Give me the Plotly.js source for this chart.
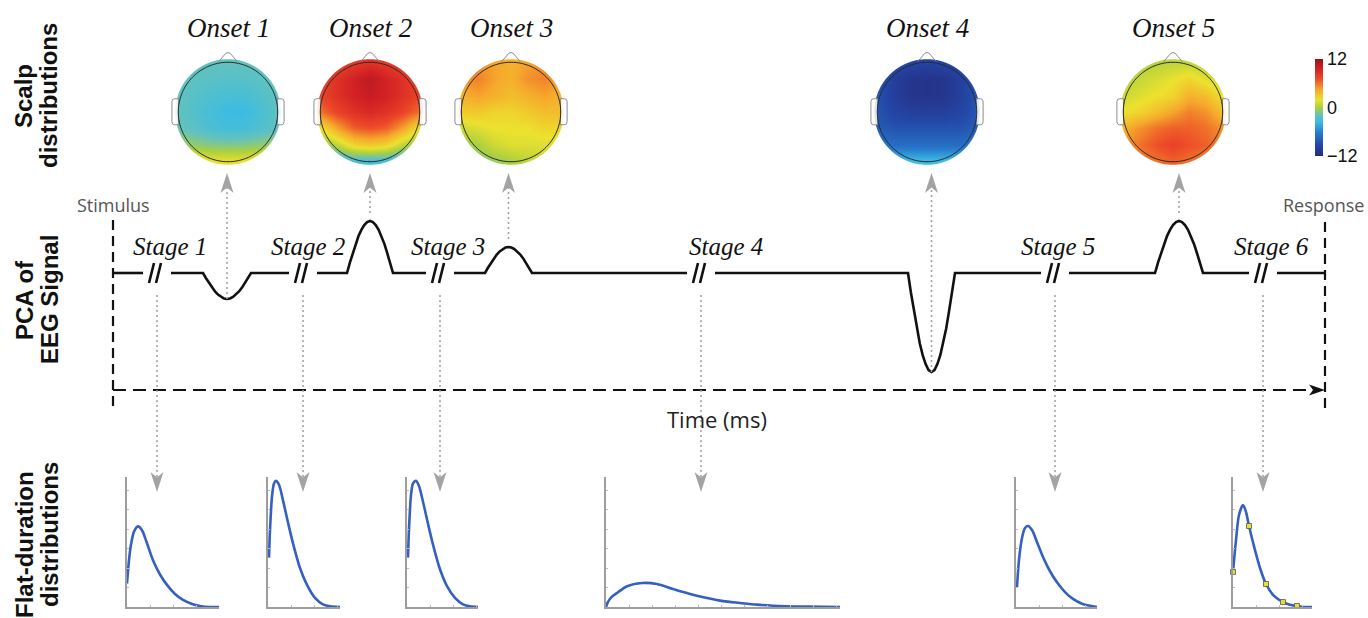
<!DOCTYPE html>
<html><head><meta charset="utf-8">
<script src="https://cdn.plot.ly/plotly-3.0.1.min.js"></script>
<style>html,body{margin:0;padding:0;background:#fff}#chart{width:1368px;height:618px}</style>
</head><body><div id="chart"></div>
<script>
// ================= DATA =================
// PCA signal (schematic time units, stimulus = 0)
const stimulusT = 0;
const responseT = 1212;
const stageNames = ['Stage 1','Stage 2','Stage 3','Stage 4','Stage 5','Stage 6'];
const stageBreakT = [44, 190, 327, 588, 942, 1150];
const onsetNames = ['Onset 1','Onset 2','Onset 3','Onset 4','Onset 5'];
const onsetStartT = [90, 234, 372, 795, 1042];
const onsetEndT   = [138, 280, 419, 842, 1090];
const onsetAmp    = [-26, 52, 26, -99, 52];
const bumpProfile = [0,0.2,0.38,0.56,0.71,0.83,0.92,0.98,1,0.98,0.92,0.83,0.71,0.56,0.38,0.2,0];

// Scalp distributions (µV, grid rows from front/top to back/bottom)
const scalpGridX = [-0.96,-0.64,-0.32,0,0.32,0.64,0.96];
const scalpGridY = [0.96,0.64,0.32,0,-0.32,-0.64,-0.96];
const scalpOnset1 = [
 [-1.6,-1.8,-1.9,-1.9,-1.9,-1.8,-1.6],
 [-1.9,-2.1,-2.3,-2.4,-2.4,-2.2,-1.9],
 [-2.0,-2.4,-2.8,-3.0,-3.0,-2.6,-2.1],
 [-2.0,-2.6,-3.2,-3.6,-3.7,-3.0,-2.2],
 [-1.8,-2.3,-2.9,-3.3,-3.2,-2.7,-2.0],
 [-0.4,-0.7,-1.0,-1.1,-1.0,-0.7,-0.4],
 [2.2,2.0,1.8,1.8,1.8,2.0,2.2]];
const scalpOnset2 = [
 [7,7.5,8,8.5,8,7.5,7],
 [7.5,8.5,9.5,10.5,9.5,8.5,7.5],
 [7.5,8.5,9.5,10,9.5,8.5,7.5],
 [6,7.5,8.5,9,8.5,7.5,6],
 [2,4.5,6.5,7,6.5,4.5,2],
 [-1,0.5,2.5,3,2.5,0.5,-1],
 [-3.5,-3.5,-3,-3,-3,-3.5,-3.5]];
const scalpOnset3 = [
 [4,5,4.5,4,4.5,5,4],
 [5,5.5,4.5,4,5,5.5,4.5],
 [4,4.5,4,3.5,4,4.5,4],
 [3,3,2.5,2.5,3,3.5,3.5],
 [1,1.5,2,2,2,2.5,2.5],
 [-0.5,0,1,1.5,1.5,1.5,1.5],
 [-1.5,-1,-0.5,0,0.5,1,1]];
const scalpOnset4 = [
 [-8,-9,-9.5,-9.5,-9.5,-9,-8],
 [-8.5,-10,-11,-11.2,-11,-10,-8.5],
 [-8.5,-10,-11,-11.2,-11,-10,-8.5],
 [-8.5,-9.5,-10,-10,-10,-9.5,-8.5],
 [-8,-8.5,-8.5,-8.5,-8.5,-8.5,-8],
 [-6.5,-7,-7,-7,-7,-7,-6.5],
 [-3.5,-3.5,-3.5,-3.5,-3.5,-3.5,-3.5]];
const scalpOnset5 = [
 [-0.3,0,0.3,0.6,0.6,0.3,0],
 [0.2,0.8,1.3,1.8,2.5,1.5,0.8],
 [1,1.5,2,2.5,4,3.5,2],
 [2,2.5,3.5,4.5,5.5,5,3.5],
 [4,5,6,6.5,6.5,6,5],
 [5,6,7,7.5,7,6.5,5.5],
 [5,5.5,6,6.5,6,5.5,5]];
const colorTickVals = [12, 0, -12];
const colorTickText = ['12', '0', '\u221212'];

// Flat-duration distributions
const durX1 = [0,2,4,7,11,15,20,26,33,40,48,56,65,73,83,92];
const durY1 = [0.18,0.36,0.48,0.58,0.62,0.59,0.49,0.36,0.25,0.17,0.10,0.054,0.023,0.008,0,0];
const durX2 = [1,2,4,6,8,11,15,20,25,32,39,47,55,62,72];
const durY2 = [0.38,0.59,0.85,0.95,0.97,0.94,0.82,0.65,0.49,0.30,0.17,0.07,0.02,0.005,0];
const durX3 = [1,2,4,6,9,12,16,21,26,33,40,48,56,63,71];
const durY3 = [0.38,0.6,0.86,0.95,0.97,0.93,0.81,0.64,0.48,0.29,0.16,0.07,0.02,0.005,0];
const durX4 = [0,2,6,11,21,36,51,67,84,101,117,134,151,167,201,234];
const durY4 = [0,0.04,0.08,0.108,0.16,0.185,0.177,0.138,0.1,0.069,0.045,0.031,0.018,0.01,0.003,0];
const durX5 = [1,3,6,9,12,16,21,27,34,41,49,57,66,81];
const durY5 = [0.154,0.362,0.531,0.608,0.623,0.592,0.5,0.385,0.275,0.19,0.115,0.062,0.025,0];
const durX6 = [0,3,6,10,13,16,22,27,33,41,50,57,64,72,79];
const durY6 = [0.27,0.515,0.708,0.785,0.731,0.623,0.438,0.3,0.177,0.085,0.038,0.018,0.008,0,0];
const durMarkX6 = [0,16,33,50,64];
const durMarkY6 = [0.27,0.623,0.177,0.038,0.008];

// ================= LAYOUT HELPERS =================
const W = 1368, H = 618;
const P = x => x / W, Q = y => 1 - y / H;
const T0PX = 113, BASEPX = 273;           // main axis: t = px - 113, amp = 273 - py
const headCx = [228, 370, 511, 927, 1173], headCy = 112, headR = 51, headHalf = 1.2;
const stageLabelDx = [13, 5, 8, 25, 3, 8];
const durBoxes = [[127,219],[268,340],[407,478],[606,840],[1016,1097],[1233,1312]];
const durTop = 477, durBottom = 607;
const durXs = [durX1,durX2,durX3,durX4,durX5,durX6];
const durYs = [durY1,durY2,durY3,durY4,durY5,durY6];
const scalps = [scalpOnset1,scalpOnset2,scalpOnset3,scalpOnset4,scalpOnset5];

const scalpColors = [
 [0.0,'rgb(38,44,128)'],[0.12,'rgb(36,72,168)'],[0.25,'rgb(40,128,208)'],
 [0.35,'rgb(62,188,226)'],[0.42,'rgb(98,194,190)'],[0.5,'rgb(172,208,64)'],
 [0.58,'rgb(236,226,46)'],[0.68,'rgb(246,170,44)'],[0.8,'rgb(236,72,40)'],
 [0.9,'rgb(210,32,36)'],[1.0,'rgb(150,20,30)']];

const data = [];
const shapes = [];
const annotations = [];
const layout = {
  width: W, height: H, margin: {l:0,r:0,t:0,b:0},
  paper_bgcolor: '#fff', plot_bgcolor: 'rgba(0,0,0,0)',
  showlegend: false, hovermode: false,
  xaxis: {domain:[0,1], range:[-T0PX, W - T0PX], visible:false, fixedrange:true},
  yaxis: {domain:[0,1], range:[BASEPX - H, BASEPX], visible:false, fixedrange:true},
  shapes, annotations
};

// ---- PCA signal ----
const sx = [], sy = [];
const events = [];
stageBreakT.forEach(t => events.push({t, kind:'gap'}));
onsetStartT.forEach((s,i) => events.push({t:s, kind:'bump', i}));
events.sort((a,b) => a.t - b.t);
const GAP = 14;
sx.push(stimulusT); sy.push(0);
events.forEach(e => {
  if (e.kind === 'gap') { sx.push(e.t - GAP, null, e.t + GAP); sy.push(0, null, 0); }
  else {
    const s = onsetStartT[e.i], en = onsetEndT[e.i], a = onsetAmp[e.i], n = bumpProfile.length - 1;
    bumpProfile.forEach((p,k) => { sx.push(s + (en - s) * k / n); sy.push(a * p); });
  }
});
sx.push(responseT); sy.push(0);

// stimulus / response dashed verticals, time arrow
const VTOP = BASEPX - 220, VBOT = BASEPX - 408, TIMEY = BASEPX - 390;
data.push({type:'scatter', mode:'lines', x:[stimulusT,stimulusT,null,responseT,responseT],
  y:[VTOP,VBOT,null,VTOP-2,VBOT], line:{color:'#111', width:2.2, dash:'10px,6px'}, hoverinfo:'skip'});
data.push({type:'scatter', mode:'lines', x:[stimulusT, responseT-10], y:[TIMEY, TIMEY],
  line:{color:'#111', width:2, dash:'13px,7px'}, hoverinfo:'skip'});
data.push({type:'scatter', mode:'lines', x:sx, y:sy, line:{color:'#111', width:2.6}, connectgaps:false, hoverinfo:'skip'});

// dotted connectors
const UPTIP = BASEPX - 173, DOWNTIP = BASEPX - 492;
const ux = [], uy = [];
onsetStartT.forEach((s,i) => {
  const t = (s + onsetEndT[i]) / 2, a = onsetAmp[i];
  ux.push(t, t, null); uy.push(a > 0 ? a + 8 : a, UPTIP - 14, null);
});
const dx = [], dy = [];
stageBreakT.forEach(t => { dx.push(t, t, null); dy.push(-22, DOWNTIP + 14, null); });
data.push({type:'scatter', mode:'lines', x:ux.concat(dx), y:uy.concat(dy),
  line:{color:'#a3a3a3', width:1.6, dash:'2px,3px'}, hoverinfo:'skip'});

// ---- scalp maps ----
function circlePath(r, n, rev) {
  let s = '';
  for (let k = 0; k <= n; k++) {
    const ang = (rev ? -1 : 1) * 2 * Math.PI * k / n;
    s += (k === 0 ? 'M' : 'L') + (r * Math.cos(ang)).toFixed(4) + ',' + (r * Math.sin(ang)).toFixed(4);
  }
  return s + 'Z';
}
scalps.forEach((z, i) => {
  const ax = i + 2, xa = 'x' + ax, ya = 'y' + ax;
  const half = headR * headHalf;
  layout['xaxis' + ax] = {domain:[P(headCx[i]-half), P(headCx[i]+half)], range:[-headHalf, headHalf], visible:false, fixedrange:true, anchor:ya};
  layout['yaxis' + ax] = {domain:[Q(headCy+half), Q(headCy-half)], range:[-headHalf, headHalf], visible:false, fixedrange:true, anchor:xa};
  const tr = {type:'heatmap', x:scalpGridX, y:scalpGridY, z:z, xaxis:xa, yaxis:ya,
    colorscale:scalpColors, zmin:-12, zmax:12, zsmooth:'best', showscale: i === 0, hoverinfo:'skip'};
  if (i === 0) tr.colorbar = {x:P(1315), xanchor:'left', xref:'paper', y:Q(59), yanchor:'top', yref:'paper',
    lenmode:'pixels', len:97, thicknessmode:'pixels', thickness:8, outlinewidth:0, xpad:0, ypad:0,
    tickmode:'array', tickvals:colorTickVals, ticktext:colorTickText, ticks:'',
    tickfont:{family:'Liberation Sans, Arial', size:18, color:'#111'}};
  data.push(tr);
  // white mask outside head
  shapes.push({type:'path', xref:xa, yref:ya, layer:'above',
    path:'M-1.6,-1.6L1.6,-1.6L1.6,1.6L-1.6,1.6Z' + circlePath(1.035, 120, true),
    fillcolor:'#fff', fillrule:'evenodd', line:{width:0}});
  // nose
  shapes.push({type:'path', xref:xa, yref:ya, layer:'above',
    path:'M-0.18,0.99L-0.045,1.15Q0,1.18 0.045,1.15L0.18,0.99', line:{color:'#8c8c8c', width:1}});
  // ears
  shapes.push({type:'path', xref:xa, yref:ya, layer:'above', fillcolor:'rgba(255,255,255,0.85)',
    path:'M-0.97,0.26L-1.05,0.26Q-1.1,0.26 -1.1,0.2L-1.1,-0.19Q-1.1,-0.25 -1.05,-0.25L-0.97,-0.25Z', line:{color:'#8c8c8c', width:1}});
  shapes.push({type:'path', xref:xa, yref:ya, layer:'above', fillcolor:'rgba(255,255,255,0.85)',
    path:'M0.97,0.26L1.05,0.26Q1.1,0.26 1.1,0.2L1.1,-0.19Q1.1,-0.25 1.05,-0.25L0.97,-0.25Z', line:{color:'#8c8c8c', width:1}});
  // head outline
  shapes.push({type:'path', xref:xa, yref:ya, layer:'above', path:circlePath(0.975, 120, false),
    line:{color:'#2a2a2a', width:1}});
  // onset title
  annotations.push({xref:'paper', yref:'paper', x:P(headCx[i]), y:Q(28), xanchor:'center', yanchor:'middle',
    text:'<i>' + onsetNames[i] + '</i>', showarrow:false,
    font:{family:'Liberation Serif, Times New Roman, serif', size:27, color:'#111'}});
});

// ---- arrowheads (pixel-sized, anchored on data positions) ----
onsetStartT.forEach((s,i) => {
  const t = (s + onsetEndT[i]) / 2;
  shapes.push({type:'path', xref:'x', yref:'y', xsizemode:'pixel', ysizemode:'pixel', xanchor:t, yanchor:UPTIP,
    path:'M0,0L-6.5,-20L0,-14.5L6.5,-20Z', fillcolor:'#a3a3a3', line:{width:0}, layer:'above'});
});
stageBreakT.forEach((t,i) => {
  shapes.push({type:'path', xref:'x', yref:'y', xsizemode:'pixel', ysizemode:'pixel', xanchor:t, yanchor:DOWNTIP,
    path:'M0,0L-6.5,20L0,14.5L6.5,20Z', fillcolor:'#a3a3a3', line:{width:0}, layer:'above'});
  // break marks //
  shapes.push({type:'path', xref:'x', yref:'y', xsizemode:'pixel', ysizemode:'pixel', xanchor:t, yanchor:0,
    path:'M-8,-10L-3,10M-1,-10L4,10', line:{color:'#111', width:2.6}, layer:'above'});
  annotations.push({xref:'x', yref:'y', x:t + stageLabelDx[i], y:BASEPX - 246, xanchor:'center', yanchor:'middle',
    text:'<i>' + stageNames[i] + '</i>', showarrow:false,
    font:{family:'Liberation Serif, Times New Roman, serif', size:25, color:'#111'}});
});
shapes.push({type:'path', xref:'x', yref:'y', xsizemode:'pixel', ysizemode:'pixel', xanchor:responseT, yanchor:TIMEY,
  path:'M0,0L-16,5.5L-12,0L-16,-5.5Z', fillcolor:'#111', line:{width:0}, layer:'above'});

// ---- flat-duration distributions ----
durBoxes.forEach((b, i) => {
  const ax = i + 7, xa = 'x' + ax, ya = 'y' + ax;
  const axBase = {showline:true, linecolor:'#9d9d9d', linewidth:2, ticks:'inside', ticklen:2, tickcolor:'#bdbdbd',
    tickwidth:1, showticklabels:false, showgrid:false, zeroline:false, fixedrange:true};
  layout['xaxis' + ax] = Object.assign({}, axBase, {domain:[P(b[0]), P(b[1])], range:[0, b[1]-b[0]], dtick:23, anchor:ya});
  layout['yaxis' + ax] = Object.assign({}, axBase, {domain:[Q(durBottom), Q(durTop)], range:[0, 1], dtick:0.15, anchor:xa});
  data.push({type:'scatter', mode:'lines', x:durXs[i], y:durYs[i], xaxis:xa, yaxis:ya,
    line:{color:'#3560bf', width:2.6, shape:'spline', smoothing:0.8}, cliponaxis:false, hoverinfo:'skip'});
});
data.push({type:'scatter', mode:'markers', x:durMarkX6, y:durMarkY6, xaxis:'x12', yaxis:'y12',
  marker:{symbol:'square', size:5, color:'#e8e030', line:{color:'#555', width:0.8}}, cliponaxis:false, hoverinfo:'skip'});

// ---- text labels ----
const boldFont = {family:'Liberation Sans, Arial, sans-serif', size:24, color:'#111'};
[['<b>Scalp</b>',24,96],['<b>distributions</b>',49,96],
 ['<b>PCA of</b>',24,300],['<b>EEG Signal</b>',49,300],
 ['<b>Flat-duration</b>',24,545],['<b>distributions</b>',49,535]].forEach(d => {
  annotations.push({xref:'paper', yref:'paper', x:P(d[1]), y:Q(d[2]), xanchor:'center', yanchor:'middle',
    text:d[0], textangle:-90, showarrow:false, font:boldFont});
});
const sansFont = {family:'Open Sans, Noto Sans, sans-serif', size:18, color:'#555'};
annotations.push({xref:'paper', yref:'paper', x:P(75), y:Q(205), xanchor:'left', yanchor:'middle', text:'Stimulus', showarrow:false, font:sansFont});
annotations.push({xref:'paper', yref:'paper', x:P(1366), y:Q(205), xanchor:'right', yanchor:'middle', text:'Response', showarrow:false, font:sansFont});
annotations.push({xref:'paper', yref:'paper', x:P(717), y:Q(419), xanchor:'center', yanchor:'middle', text:'Time (ms)', showarrow:false,
  font:{family:'Open Sans, Noto Sans, sans-serif', size:22, color:'#222'}});

Plotly.newPlot('chart', data, layout, {displayModeBar:false, staticPlot:true});
</script>
</body></html>
